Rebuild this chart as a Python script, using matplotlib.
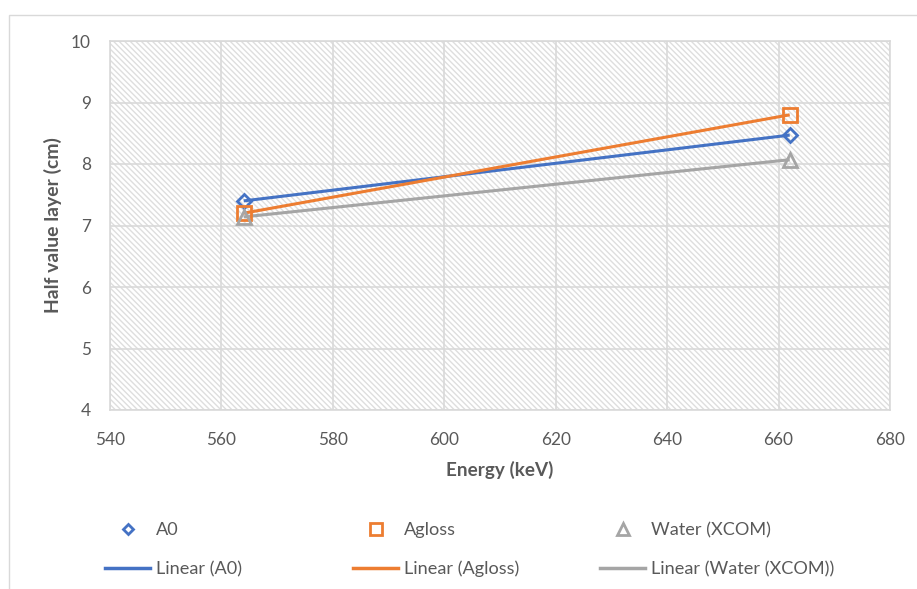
import numpy as np
import matplotlib
matplotlib.use("Agg")
import matplotlib.pyplot as plt
from matplotlib.patches import Rectangle
from matplotlib.lines import Line2D

energy = [564, 662]
a0 = [7.40, 8.47]
agloss = [7.20, 8.80]
water = [7.14, 8.07]
series_names = ["A0", "Agloss", "Water (XCOM)"]
colors = ["#4472C4", "#ED7D31", "#A5A5A5"]
markers = ["D", "s", "^"]
msizes = [7, 10, 10]
xticks = [540, 560, 580, 600, 620, 640, 660, 680]
yticks = [4, 5, 6, 7, 8, 9, 10]

plt.rcParams['font.family'] = ['Lato', 'DejaVu Sans']
plt.rcParams['hatch.color'] = '#DEDEDE'
plt.rcParams['hatch.linewidth'] = 1.0
text_color = '#595959'

W, H = 917, 589
fig = plt.figure(figsize=(W/100, H/100), dpi=100)
renderer = fig.canvas.get_renderer()


def fit_size(s, target_px, weight='normal', base=12.0, vertical=False):
    t = fig.text(0, 0, s, fontsize=base, fontweight=weight)
    bb = t.get_window_extent(renderer)
    t.remove()
    return base * target_px / bb.width


fig.patches.append(Rectangle((9/W, -0.1), 1.2, 1 - 15/H + 0.1, transform=fig.transFigure,
                             facecolor='white', edgecolor='#D9D9D9', linewidth=1.0, zorder=-1))
ax = fig.add_axes([110/W, 1 - 410/H, 780/W, 369/H])
ax.patch.set_alpha(0)
ax.add_patch(Rectangle((0, 0), 1, 1, transform=ax.transAxes, facecolor='white',
                       edgecolor='#DEDEDE', hatch='\\' * 6, linewidth=0, zorder=0))

for vals, name, c, m, ms in zip([a0, agloss, water], series_names, colors, markers, msizes):
    coef = np.polyfit(energy, vals, 1)
    xs = np.array(energy)
    ax.plot(xs, np.polyval(coef, xs), color=c, lw=2.2, zorder=3, solid_capstyle='butt')
    ax.plot(energy, vals, linestyle='none', marker=m, markersize=ms, markerfacecolor='none',
            markeredgecolor=c, markeredgewidth=2, zorder=4)

ax.set_xlim(540, 680)
ax.set_ylim(4, 10)
ax.set_xticks(xticks)
ax.set_yticks(yticks)
ax.grid(True, color='#D9D9D9', lw=1.2, zorder=1)
for s in ax.spines.values():
    s.set_color('#D9D9D9')
    s.set_linewidth(1.2)
    s.set_zorder(1)

tick_fs = fit_size("540", 30)
ax.tick_params(length=0, labelsize=tick_fs, labelcolor=text_color)
ax.tick_params(axis='y', pad=19 * 0.72)
ax.tick_params(axis='x', pad=22 * 0.72)

xl_fs = fit_size('Energy (keV)', 106, weight='bold')
yl_fs = fit_size('Half value layer (cm)', 175, weight='bold')
ax.set_xlabel('Energy (keV)', fontsize=xl_fs, fontweight='bold', color=text_color)
ax.set_ylabel('Half value layer (cm)', fontsize=yl_fs, fontweight='bold', color=text_color)
ax.xaxis.set_label_coords(0.5, (H - 461 - (H - 410)) / 369)
ax.yaxis.set_label_coords((62 - 110) / 780, 0.5)

leg_fs = fit_size('Water (XCOM)', 119)
fs_px = leg_fs * 100 / 72
col_x = [105, 353, 600]
row_y = [530, 569]
for name, c, m, ms, x0 in zip(series_names, colors, markers, msizes, col_x):
    hs = [Line2D([], [], linestyle='none', marker=m, markersize=ms * 0.8, markerfacecolor='none',
                 markeredgecolor=c, markeredgewidth=2),
          Line2D([], [], color=c, lw=2.5)]
    labs = [name, f"Linear ({name})"]
    for h, lab, y0 in zip(hs, labs, row_y):
        fig.legend([h], [lab], loc='center left', bbox_to_anchor=(x0/W, 1 - y0/H),
                   frameon=False, fontsize=leg_fs, labelcolor=text_color,
                   handlelength=45/fs_px, handletextpad=6/fs_px, borderpad=0, borderaxespad=0)

fig.savefig('out.png', dpi=100)
